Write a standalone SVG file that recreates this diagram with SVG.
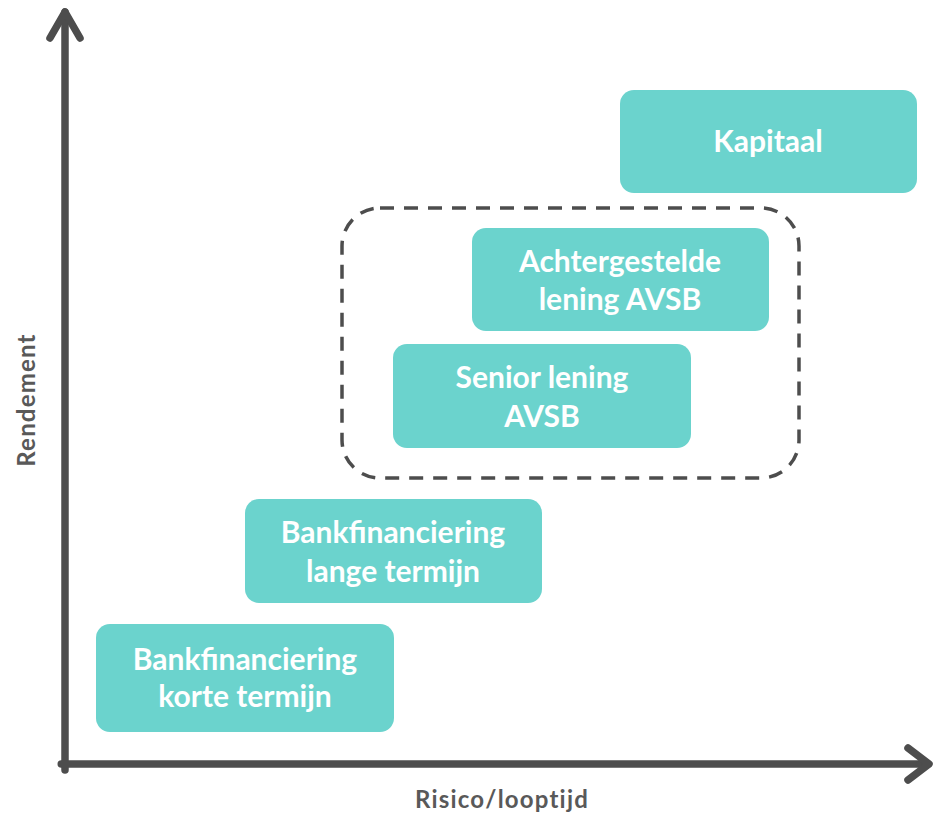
<svg xmlns="http://www.w3.org/2000/svg" width="934" height="813" viewBox="0 0 934 813">
<style>
.box{fill:#6bd3cd}
.bt{font-family:Lato,"Open Sans","Liberation Sans",sans-serif;font-weight:700;font-size:30px;fill:#ffffff;text-anchor:middle}
.ax{stroke:#4d4d4d;stroke-width:7.5;fill:none;stroke-linecap:round;stroke-linejoin:round}
.lbl{font-family:Lato,"Open Sans","Liberation Sans",sans-serif;font-weight:700;font-size:24px;letter-spacing:1.2px;fill:#595959;text-anchor:middle}
</style>
<rect width="934" height="813" fill="#ffffff"/>
<g id="connectors">
<path class="ax" d="M65,770 V12" stroke-linecap="butt"/>
<path class="ax" d="M50,38 L65,12 L80,38"/>
<path class="ax" d="M61.25,764 H920" stroke-linecap="butt"/>
<path class="ax" d="M920,764 H928"/>
<path class="ax" d="M908,748 L929,764 L908,780"/>
<rect x="342" y="208" width="457" height="270" rx="38" fill="none" stroke="#4d4d4d" stroke-width="3.5" stroke-dasharray="14 10"/>
</g>
<g id="kapitaal">
<rect class="box" x="620" y="90" width="297" height="103" rx="14"/>
<text class="bt" x="768" y="152">Kapitaal</text>
</g>
<g id="achtergestelde">
<rect class="box" x="472" y="228" width="297" height="103" rx="14"/>
<text class="bt" x="620" y="272">Achtergestelde</text>
<text class="bt" x="620" y="310">lening AVSB</text>
</g>
<g id="senior">
<rect class="box" x="393" y="344" width="298" height="104" rx="14"/>
<text class="bt" x="542" y="388">Senior lening</text>
<text class="bt" x="542" y="427">AVSB</text>
</g>
<g id="bank-lange">
<rect class="box" x="245" y="499" width="297" height="104" rx="14"/>
<text class="bt" x="393" y="543">Bankfinanciering</text>
<text class="bt" x="393" y="582">lange termijn</text>
</g>
<g id="bank-korte">
<rect class="box" x="96" y="624" width="298" height="108" rx="14"/>
<text class="bt" x="245" y="670">Bankfinanciering</text>
<text class="bt" x="245" y="707">korte termijn</text>
</g>
<g id="axis-labels">
<text class="lbl" x="502" y="808">Risico/looptijd</text>
<text class="lbl" transform="translate(35,400) rotate(-90)" x="0" y="0">Rendement</text>
</g>
</svg>
